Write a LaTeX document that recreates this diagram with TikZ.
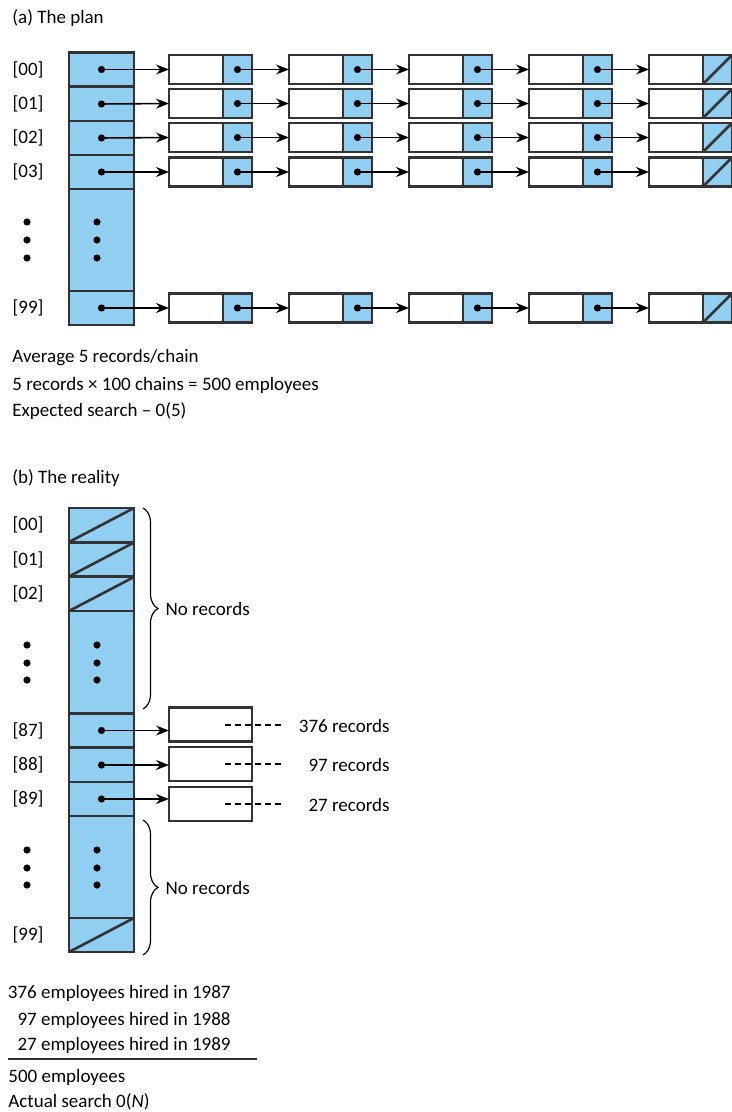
\documentclass[tikz,border=0pt]{standalone}
\usepackage{fontspec}
\setmainfont{Carlito}
\usetikzlibrary{arrows.meta,decorations.pathreplacing}

\definecolor{cellblue}{RGB}{145,207,242}
\definecolor{edge}{RGB}{51,51,51}

\tikzset{
  bucket/.style={draw=edge,line width=1.4pt,fill=cellblue,minimum width=32.5pt,
    minimum height=17pt,inner sep=0pt,outer sep=0pt},
  datapart/.style={draw=edge,line width=1.4pt,fill=white,minimum width=27pt,
    minimum height=14.5pt,inner sep=0pt,outer sep=0pt,anchor=west},
  ptrpart/.style={datapart,fill=cellblue,minimum width=14.5pt},
  record/.style={datapart,minimum width=41.5pt,minimum height=17pt},
  link/.style={line width=0.8pt,-{Stealth[length=6.5pt,width=5pt]}},
  nilline/.style={draw=edge,line width=1.3pt},
  gapline/.style={line width=1pt,dash pattern=on 3pt off 2pt},
  cbrace/.style={decorate,decoration={brace,amplitude=7.5pt},line width=0.6pt},
  idx/.style={inner sep=0pt},
  txt/.style={inner sep=0pt,anchor=base west},
}

\begin{document}
\begin{tikzpicture}[x=0.5pt,y=-0.5pt,font=\fontsize{9.5}{11}\selectfont]
  \useasboundingbox (0,0) rectangle (732,1112);

  % (a) the plan
  \node[txt] (title-a) at (12,24) {(a) The plan};
  \node[bucket] (a00) at (101.5,69.5) {};
  \node[bucket] (a01) at (101.5,104) {};
  \node[bucket] (a02) at (101.5,138) {};
  \node[bucket] (a03) at (101.5,172) {};
  \node[bucket,minimum height=51pt] (adots) at (101.5,240) {};
  \node[bucket] (a99) at (101.5,308) {};
  \foreach \r/\y in {00/69.5,01/103.5,02/137.5,03/172,99/308} {
    \node[idx] (la\r) at (28,\y) {[\r]};
    \foreach \k in {1,...,5} {
      \node[datapart] (d\r-\k) at ({169+120*(\k-1)},\y) {};
      \node[ptrpart] (p\r-\k) at (d\r-\k.east) {};
    }
    \draw[link] (a\r.center) -- (d\r-1.west);
    \fill (a\r.center) circle (1.8pt);
    \foreach \k/\n in {1/2,2/3,3/4,4/5} {
      \draw[link] (p\r-\k.center) -- (d\r-\n.west);
      \fill (p\r-\k.center) circle (1.8pt);
    }
    \draw[nilline] (p\r-5.south west) -- (p\r-5.north east);
  }
  \foreach \y in {222,240,258} {
    \fill (27,\y) circle (1.8pt);
    \fill (97,\y) circle (1.8pt);
  }
  \node[txt] (plan1) at (12,363) {Average 5 records/chain};
  \node[txt] (plan2) at (12,390) {5 records × 100 chains = 500 employees};
  \node[txt] (plan3) at (12,416) {Expected search – 0(5)};

  % (b) the reality
  \node[txt] (title-b) at (12,483) {(b) The reality};
  \node[bucket] (b00) at (101.5,525) {};
  \node[bucket] (b01) at (101.5,559.5) {};
  \node[bucket] (b02) at (101.5,594) {};
  \node[bucket,minimum height=51pt] (bdots1) at (101.5,662) {};
  \node[bucket] (b87) at (101.5,730.5) {};
  \node[bucket] (b88) at (101.5,765) {};
  \node[bucket] (b89) at (101.5,799) {};
  \node[bucket,minimum height=51pt] (bdots2) at (101.5,867) {};
  \node[bucket] (b99) at (101.5,935) {};
  \foreach \r/\y in {00/525,01/559.5,02/594,87/730.5,88/765,89/799,99/935}
    \node[idx] (lb\r) at (28,\y) {[\r]};
  \foreach \r in {00,01,02,99}
    \draw[nilline] (b\r.south west) -- (b\r.north east);
  \foreach \y in {645,663,680,850,868,885} {
    \fill (27,\y) circle (1.8pt);
    \fill (97,\y) circle (1.8pt);
  }

  \node[record] (r87) at (169,724.5) {};
  \node[record] (r88) at (169,764) {};
  \node[record] (r89) at (169,804) {};
  \foreach \r/\n in {87/376,88/97,89/27} {
    \draw[link] (b\r.center) -- (b\r.center -| r\r.west);
    \fill (b\r.center) circle (1.8pt);
    \draw[gapline] ([xshift=-13.5pt]r\r.east) -- ([xshift=15.5pt]r\r.east);
    \node[inner sep=0pt,anchor=east] (n\r) at ([yshift=-0.5pt]r\r.center -| 390,0) {\n{} records};
  }

  \draw[cbrace] (143,508) -- (143,709) node[midway,right=11pt,inner sep=0pt] (none1) {No records};
  \draw[cbrace] (143,820) -- (143,955) node[midway,right=11pt,inner sep=0pt] (none2) {No records};

  \node[inner sep=0pt,anchor=base east] (sum1) at (231,998) {376 employees hired in 1987};
  \node[inner sep=0pt,anchor=base east] (sum2) at (231,1025) {97 employees hired in 1988};
  \node[inner sep=0pt,anchor=base east] (sum3) at (231,1050) {27 employees hired in 1989};
  \draw[line width=1.3pt,edge] (8,1059) -- (257,1059);
  \node[txt] (total) at (8,1082) {500 employees};
  \node[txt] (search) at (8,1107) {Actual search 0(\textit{N})};
\end{tikzpicture}
\end{document}
